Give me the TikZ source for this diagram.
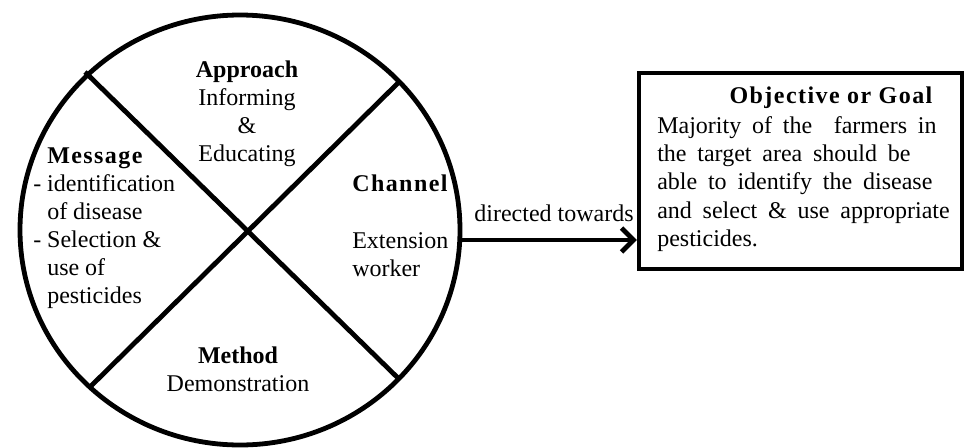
\documentclass[tikz,border=0pt]{standalone}
\usepackage{fontspec}
\setmainfont{Liberation Serif}
\newfontfamily\widebody{Liberation Serif}[WordSpace=1.8]
\newfontfamily\widebold{Liberation Serif}[LetterSpace=6,BoldFont={Liberation Serif Bold}]
\usetikzlibrary{arrows.meta}
\begin{document}
\begin{tikzpicture}[x=0.75pt,y=-0.75pt,
  thickline/.style={line width=3.6pt},
  txt/.style={inner sep=0pt,font=\fontsize{18}{21}\selectfont},
  ttl/.style={inner sep=0pt,font=\fontsize{18}{21}\selectfont\widebold\bfseries},
  bodytxt/.style={inner sep=0pt,font=\fontsize{18}{21.2}\selectfont\widebody},
  goalbox/.style={draw,line width=3.4pt,inner sep=0pt,minimum width=242pt,minimum height=147pt},
  pointer/.style={line width=3.6pt,-{Straight Barb[length=9pt,width=18pt,line width=3.6pt]}}]
\useasboundingbox (0,0) rectangle (964,447);
% wheel
\coordinate (wheel) at (240,230);
\draw[thickline] (wheel) ellipse [x radius=220, y radius=215];
\coordinate (d1a) at (85,72);
\coordinate (d1b) at (400,380);
\coordinate (d2a) at (398,83);
\coordinate (d2b) at (90,387);
\draw[thickline] (d1a) -- (d1b);
\draw[thickline] (d2a) -- (d2b);
% sectors
\node[txt,align=center] (appr) at (247,114) {\textbf{Approach}\\Informing\\\&\\Educating};
\node[txt,align=left,anchor=west] (msg) at (33,228) {\phantom{- }{\widebold\bfseries Message}\\- identification\\\phantom{- }of disease\\- Selection \&\\\phantom{- }use of\\\phantom{- }pesticides};
\node[ttl,anchor=west] (chan) at (352,183) {Channel};
\node[txt,align=left,anchor=west] (chanb) at (352,255) {Extension\\worker};
\node[txt,align=center] (meth) at (238,369) {\textbf{Method}\\Demonstration};
% goal box
\node[goalbox] (goal) at (800.5,171) {};
\node[ttl] (goalt) at (831,98) {Objective or Goal};
\node[bodytxt,align=left,anchor=west] (goalb) at (657,184) {Majority of the \ farmers in\\the target area should be\\able to identify the disease\\and select \& use appropriate\\pesticides.};
% connector
\coordinate (arrs) at (460,240);
\draw[pointer] (arrs) -- (arrs -| goal.west);
\node[txt] (dir) at (554,213) {directed towards};
\end{tikzpicture}
\end{document}
